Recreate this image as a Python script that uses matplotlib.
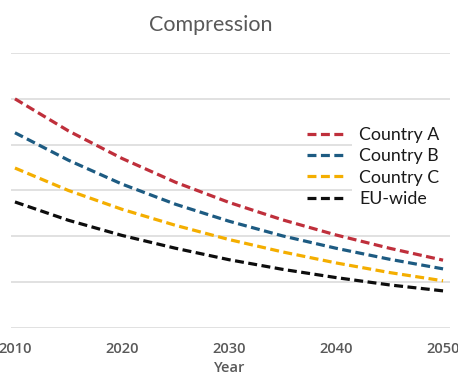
import matplotlib.pyplot as plt
from matplotlib.patches import Rectangle

# Projected values, one point every five years
years = [2010, 2015, 2020, 2025, 2030, 2035, 2040, 2045, 2050]
country_a = [5.00, 4.30, 3.70, 3.18, 2.74, 2.36, 2.03, 1.74, 1.48]
country_b = [4.26, 3.66, 3.14, 2.70, 2.33, 2.01, 1.74, 1.50, 1.29]
country_c = [3.49, 3.00, 2.59, 2.24, 1.93, 1.66, 1.42, 1.21, 1.03]
eu_wide = [2.75, 2.35, 2.02, 1.74, 1.49, 1.28, 1.10, 0.94, 0.81]

series = ['Country A', 'Country B', 'Country C', 'EU-wide']
colors = ['#BF2F3B', '#1D5B82', '#F4AE00', '#0D0D0D']
tick_years = [2010, 2020, 2030, 2040, 2050]

plt.rcParams['font.family'] = ['Lato', 'DejaVu Sans']
grey_text = '#595959'

fig = plt.figure(figsize=(4.58, 3.74), dpi=100)
fig.patch.set_facecolor('white')
ax = fig.add_axes([11 / 458, 1 - 328 / 374, 439 / 458, 275 / 374])

for name, vals, col in zip(series, [country_a, country_b, country_c, eu_wide], colors):
    ax.plot(years, vals, color=col, lw=2.3, linestyle=(0, (2.8, 1.4)),
            dash_capstyle='butt', label=name, zorder=3)

ax.set_xlim(2009.63, 2050.65)
ax.set_ylim(0, 6)
ax.set_yticks(range(0, 7))
ax.set_yticklabels([])
ax.set_xticks(tick_years)
ax.set_xticklabels([str(y) for y in tick_years], color=grey_text,
                   fontsize=10.5, family='Open Sans', fontweight='semibold')
ax.tick_params(axis='both', length=0, pad=10)
ax.grid(axis='y', color='#D9D9D9', lw=1.1, zorder=0)
ax.set_axisbelow(True)
for s in ax.spines.values():
    s.set_visible(False)

# white block behind the legend text hides the gridlines there
ax.add_patch(Rectangle((352 / 458, 1 - 216 / 374), 104 / 458, 98 / 374,
                       transform=fig.transFigure, facecolor='white',
                       edgecolor='none', zorder=2))

leg = ax.legend(loc='center left', bbox_to_anchor=(307 / 458, 1 - 167 / 374),
                bbox_transform=fig.transFigure, frameon=False, fontsize=12.8,
                handlelength=2.25, handletextpad=0.7, labelspacing=0.3,
                borderpad=0, borderaxespad=0)
for t in leg.get_texts():
    t.set_color('#1A1A1A')

fig.text(211 / 458, 1 - 25 / 374, 'Compression', ha='center', va='center',
         fontsize=15.5, color=grey_text)
fig.text(230 / 458, 1 - 368 / 374, 'Year', ha='center', va='center',
         fontsize=10.5, color=grey_text, family='Open Sans',
         fontweight='semibold')

fig.savefig('out.png', dpi=100, facecolor='white')
